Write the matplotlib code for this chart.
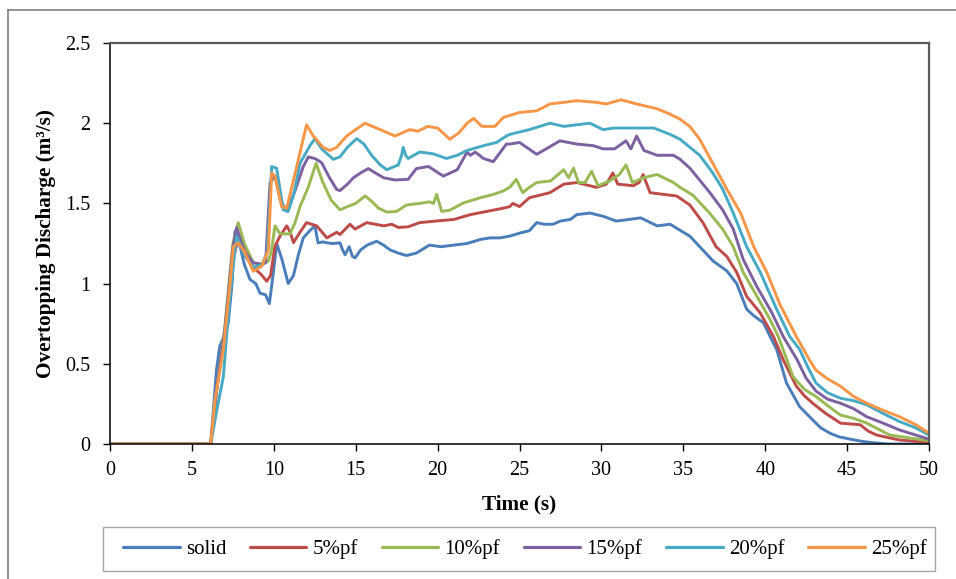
import matplotlib
matplotlib.use("Agg")
import matplotlib.pyplot as plt
from matplotlib.lines import Line2D
from matplotlib.patches import Rectangle

plt.rcParams['font.family'] = ['Liberation Serif', 'DejaVu Serif']

# ---------------- data ----------------
t_solid = [0, 6.15, 6.5, 6.7, 7.0, 7.22, 7.45, 7.63, 7.9, 8.2, 8.55, 8.9, 9.16, 9.5, 9.73, 9.95, 10.18,
           10.5, 10.88, 11.2, 11.5, 11.8, 12.2, 12.51, 12.7, 13.0, 13.24, 13.6, 14.04, 14.2, 14.35, 14.6,
           14.8, 14.96, 15.3, 15.7, 16.28, 16.7, 17.1, 17.6, 18.1, 18.7, 19.5, 20.2, 21.0, 21.8, 22.6,
           23.2, 23.8, 24.4, 25.1, 25.6, 26.05, 26.5, 27.05, 27.5, 28.1, 28.5, 29.3, 30.1, 30.9, 31.7,
           32.4, 33.0, 33.4, 34.2, 35.0, 35.4, 36.0, 36.83, 37.65, 38.26, 38.87, 39.3, 39.9, 40.3, 40.7,
           41.3, 42.1, 42.9, 43.4, 43.96, 44.5, 45.2, 46.0, 46.6, 47.5, 50]
v_solid = [0, 0, 0.46, 0.61, 0.68, 0.754, 1.0, 1.327, 1.25, 1.12, 1.025, 1.0, 0.94, 0.93, 0.875, 1.05, 1.25,
           1.15, 1.0, 1.05, 1.18, 1.285, 1.33, 1.36, 1.254, 1.26, 1.254, 1.25, 1.254, 1.21, 1.18, 1.23,
           1.17, 1.16, 1.21, 1.24, 1.264, 1.24, 1.21, 1.19, 1.175, 1.19, 1.24, 1.23, 1.24, 1.25, 1.275,
           1.285, 1.285, 1.296, 1.317, 1.33, 1.38, 1.37, 1.37, 1.39, 1.4, 1.43, 1.44, 1.42, 1.39, 1.4,
           1.41, 1.38, 1.36, 1.37, 1.32, 1.296, 1.23, 1.14, 1.08, 1.0, 0.84, 0.8, 0.755, 0.67, 0.59,
           0.38, 0.233, 0.15, 0.1, 0.067, 0.045, 0.03, 0.015, 0.008, 0, 0]

t_pf5 = [0, 6.15, 6.5, 7.0, 7.5, 7.83, 8.0, 8.3, 8.75, 9.2, 9.57, 9.8, 10.07, 10.4, 10.79, 11.0, 11.2, 11.6,
         12.0, 12.62, 13.24, 13.84, 14.04, 14.65, 14.96, 15.67, 16.2, 16.7, 17.2, 17.6, 18.2, 18.9, 19.9,
         21.0, 22.0, 23.0, 24.0, 24.4, 24.6, 25.0, 25.6, 26.86, 27.7, 28.5, 29.7, 30.3, 30.7, 31.0, 31.95,
         32.3, 32.55, 32.97, 33.8, 34.6, 35.4, 36.2, 37.0, 37.65, 38.26, 38.87, 39.68, 40.5, 41.1, 41.9,
         42.4, 42.9, 43.7, 44.6, 45.8, 46.3, 46.8, 47.5, 48.2, 50]
v_pf5 = [0, 0, 0.33, 0.7, 1.15, 1.275, 1.26, 1.2, 1.1, 1.06, 1.015, 1.05, 1.234, 1.3, 1.36, 1.32, 1.255, 1.32,
         1.38, 1.36, 1.285, 1.32, 1.306, 1.37, 1.34, 1.38, 1.37, 1.36, 1.37, 1.35, 1.354, 1.38, 1.39,
         1.40, 1.43, 1.45, 1.47, 1.48, 1.50, 1.48, 1.535, 1.567, 1.62, 1.63, 1.60, 1.62, 1.69, 1.62, 1.61,
         1.63, 1.68, 1.567, 1.556, 1.546, 1.49, 1.38, 1.23, 1.17, 1.07, 0.92, 0.82, 0.67, 0.525, 0.36,
         0.3, 0.254, 0.19, 0.13, 0.12, 0.08, 0.056, 0.04, 0.025, 0.01]

t_pf10 = [0, 6.15, 6.5, 7.0, 7.5, 7.83, 8.2, 8.75, 9.2, 9.67, 9.85, 10.07, 10.38, 10.99, 11.3, 11.6, 12.1,
          12.58, 13.0, 13.5, 14.04, 14.5, 15.0, 15.57, 15.9, 16.4, 16.9, 17.5, 18.1, 18.9, 19.5, 19.75,
          19.94, 20.25, 20.75, 21.6, 22.6, 23.4, 24.0, 24.4, 24.8, 25.2, 25.6, 26.05, 26.9, 27.7, 28.0,
          28.3, 28.6, 29.0, 29.4, 29.8, 30.5, 31.1, 31.5, 31.9, 32.55, 33.4, 34.4, 34.8, 35.6, 36.6, 37.4,
          38.05, 38.66, 39.5, 40.3, 40.8, 41.7, 42.4, 43.1, 43.8, 44.6, 45.4, 46.2, 47.6, 50]
v_pf10 = [0, 0, 0.33, 0.72, 1.25, 1.38, 1.25, 1.13, 1.12, 1.14, 1.2, 1.36, 1.31, 1.31, 1.38, 1.48, 1.6,
          1.75, 1.63, 1.52, 1.46, 1.48, 1.5, 1.546, 1.52, 1.47, 1.446, 1.45, 1.49, 1.50, 1.51, 1.5,
          1.556, 1.45, 1.458, 1.504, 1.535, 1.556, 1.577, 1.6, 1.65, 1.567, 1.6, 1.63, 1.64, 1.71, 1.66,
          1.72, 1.63, 1.63, 1.70, 1.61, 1.64, 1.68, 1.74, 1.63, 1.66, 1.68, 1.63, 1.6, 1.55, 1.44, 1.34,
          1.23, 1.07, 0.92, 0.775, 0.67, 0.42, 0.34, 0.296, 0.24, 0.18, 0.16, 0.13, 0.056, 0.02]

t_pf15 = [0, 6.15, 6.5, 7.0, 7.5, 7.73, 8.2, 8.75, 9.3, 9.5, 9.77, 10.07, 10.4, 10.79, 11.3, 11.8, 12.11,
          12.5, 12.92, 13.4, 13.84, 14.04, 14.5, 14.86, 15.3, 15.77, 16.2, 16.7, 17.4, 18.2, 18.7, 19.44,
          19.9, 20.35, 21.2, 21.8, 22.0, 22.3, 22.8, 23.4, 24.2, 24.4, 25.0, 26.05, 26.8, 27.47, 28.5,
          29.5, 30.1, 30.8, 31.5, 31.8, 32.15, 32.6, 33.4, 34.4, 34.8, 35.4, 35.8, 36.6, 37.4, 38.05,
          38.66, 39.5, 40.4, 41.1, 41.95, 42.5, 43.1, 43.8, 44.6, 45.4, 46.2, 47.2, 48.2, 50]
v_pf15 = [0, 0, 0.33, 0.7, 1.22, 1.348, 1.2, 1.13, 1.12, 1.13, 1.63, 1.67, 1.52, 1.45, 1.58, 1.73, 1.79,
          1.78, 1.754, 1.66, 1.587, 1.58, 1.62, 1.66, 1.69, 1.717, 1.69, 1.66, 1.646, 1.65, 1.717, 1.73,
          1.70, 1.67, 1.71, 1.82, 1.80, 1.82, 1.78, 1.76, 1.87, 1.87, 1.88, 1.806, 1.85, 1.89, 1.87,
          1.86, 1.84, 1.84, 1.89, 1.84, 1.92, 1.83, 1.80, 1.80, 1.775, 1.72, 1.67, 1.57, 1.46, 1.34,
          1.15, 0.98, 0.82, 0.67, 0.525, 0.41, 0.33, 0.28, 0.254, 0.22, 0.17, 0.13, 0.0875, 0.03]

t_pf20 = [0, 6.15, 6.5, 6.92, 7.3, 7.73, 8.2, 8.75, 9.3, 9.6, 9.87, 10.17, 10.58, 10.88, 11.2, 11.6, 12.21,
          12.51, 12.92, 13.63, 14.04, 14.5, 15.06, 15.5, 15.97, 16.5, 16.9, 17.6, 17.8, 17.9, 18.05, 18.2,
          18.9, 19.7, 20.55, 21.2, 21.8, 22.8, 23.6, 24.2, 24.4, 25.6, 26.86, 27.7, 28.5, 29.3, 30.1,
          30.8, 31.5, 32.4, 33.2, 34.2, 34.8, 35.4, 36.0, 36.8, 37.4, 38.05, 38.87, 39.7, 40.7, 41.5,
          42.1, 42.6, 43.1, 43.8, 44.6, 45.4, 46.2, 47.2, 48.2, 49.2, 50]
v_pf20 = [0, 0, 0.2, 0.42, 0.9, 1.296, 1.18, 1.1, 1.12, 1.2, 1.73, 1.72, 1.46, 1.45, 1.55, 1.75, 1.86,
          1.904, 1.84, 1.775, 1.79, 1.85, 1.904, 1.87, 1.80, 1.74, 1.71, 1.74, 1.80, 1.85, 1.80, 1.78,
          1.82, 1.81, 1.78, 1.80, 1.83, 1.86, 1.88, 1.92, 1.93, 1.96, 2.0, 1.98, 1.99, 2.0, 1.96,
          1.97, 1.97, 1.97, 1.97, 1.93, 1.9, 1.85, 1.8, 1.69, 1.59, 1.44, 1.23, 1.07, 0.84, 0.67,
          0.59, 0.48, 0.38, 0.32, 0.285, 0.27, 0.244, 0.19, 0.14, 0.1, 0.056]

t_pf25 = [0, 6.15, 6.41, 6.92, 7.33, 7.53, 7.83, 8.2, 8.75, 9.26, 9.67, 9.87, 10.07, 10.48, 10.79, 11.4,
          12.0, 12.41, 13.0, 13.43, 13.84, 14.45, 14.86, 15.57, 16.5, 17.4, 18.3, 18.8, 19.4, 20.0, 20.75,
          21.3, 21.8, 22.2, 22.7, 23.5, 24.0, 25.0, 26.05, 26.86, 28.5, 29.7, 30.3, 31.2, 32.15, 33.4,
          34.2, 34.8, 35.4, 36.0, 36.8, 37.65, 38.5, 39.3, 40.1, 40.9, 41.9, 42.7, 43.1, 43.75, 44.6,
          45.4, 46.2, 47.2, 48.2, 49.2, 50]
v_pf25 = [0, 0, 0.275, 0.59, 1.0, 1.23, 1.254, 1.2, 1.077, 1.108, 1.21, 1.69, 1.67, 1.48, 1.47, 1.73,
          1.99, 1.92, 1.85, 1.83, 1.85, 1.92, 1.95, 2.0, 1.96, 1.92, 1.96, 1.95, 1.98, 1.97, 1.9,
          1.94, 2.0, 2.03, 1.98, 1.98, 2.035, 2.067, 2.077, 2.12, 2.14, 2.13, 2.12, 2.146, 2.12, 2.09,
          2.056, 2.025, 1.98, 1.9, 1.75, 1.59, 1.44, 1.23, 1.07, 0.87, 0.67, 0.525, 0.46, 0.41, 0.36,
          0.296, 0.254, 0.21, 0.17, 0.12, 0.067]

labels = ['solid', '5%pf', '10%pf', '15%pf', '20%pf', '25%pf']
colors = ['#4A7EBB', '#BE4B48', '#98B954', '#7D60A0', '#46AAC5', '#F79646']
x_ticks = [0, 5, 10, 15, 20, 25, 30, 35, 40, 45, 50]
y_ticks = [0, 0.5, 1, 1.5, 2, 2.5]
y_tick_labels = ['0', '0.5', '1', '1.5', '2', '2.5']

series = [(t_solid, v_solid), (t_pf5, v_pf5), (t_pf10, v_pf10),
          (t_pf15, v_pf15), (t_pf20, v_pf20), (t_pf25, v_pf25)]

# ---------------- figure ----------------
W, H = 956, 579
fig = plt.figure(figsize=(W / 100, H / 100), dpi=100)
ax = fig.add_axes([110 / W, 1 - 444 / H, (929 - 110) / W, (444 - 43) / H])

for (t, v), lab, c in zip(series, labels, colors):
    ax.plot(t, v, color=c, lw=2.1, label=lab, solid_joinstyle='round', solid_capstyle='round')

ax.set_xlim(0, 50)
ax.set_ylim(0, 2.5)
ax.set_xticks(x_ticks)
ax.set_yticks(y_ticks)
ax.set_yticklabels(y_tick_labels)
ax.tick_params(direction='out', length=5, width=1.0, labelsize=14.5, colors='black')
ax.tick_params(axis='y', pad=9)
ax.tick_params(axis='x', pad=7)

for s in ['left', 'bottom']:
    ax.spines[s].set_color('black')
    ax.spines[s].set_linewidth(1.1)
for s in ['top', 'right']:
    ax.spines[s].set_color('#5a5a5a')
    ax.spines[s].set_linewidth(1.6)

ax.set_xlabel('Time (s)', fontsize=15.3, fontweight='bold', labelpad=11)
ax.set_ylabel('Overtopping Discharge (m³/s)', fontsize=15.3, fontweight='bold', labelpad=7)

# legend frame drawn separately to match the wide box
fig.add_artist(Rectangle((103 / W, 1 - 571 / H), (935 - 103) / W, (571 - 527) / H,
                         transform=fig.transFigure, fill=False, edgecolor='#a6a6a6', lw=1.0))
leg = fig.legend(loc='center', bbox_to_anchor=(525 / W, 1 - 549 / H), ncol=6, fontsize=15,
                 frameon=False, handlelength=2.7, handletextpad=0.3, columnspacing=1.15)
for h in leg.get_lines():
    h.set_linewidth(2.3)

# outer chart border (top and left visible)
fig.add_artist(Line2D([8 / W, 1.0], [1 - 10 / H, 1 - 10 / H], transform=fig.transFigure,
                      color='#7f7f7f', lw=1.2))
fig.add_artist(Line2D([8 / W, 8 / W], [0.0, 1 - 10 / H], transform=fig.transFigure,
                      color='#7f7f7f', lw=1.2))

fig.savefig('out.png', dpi=100)
